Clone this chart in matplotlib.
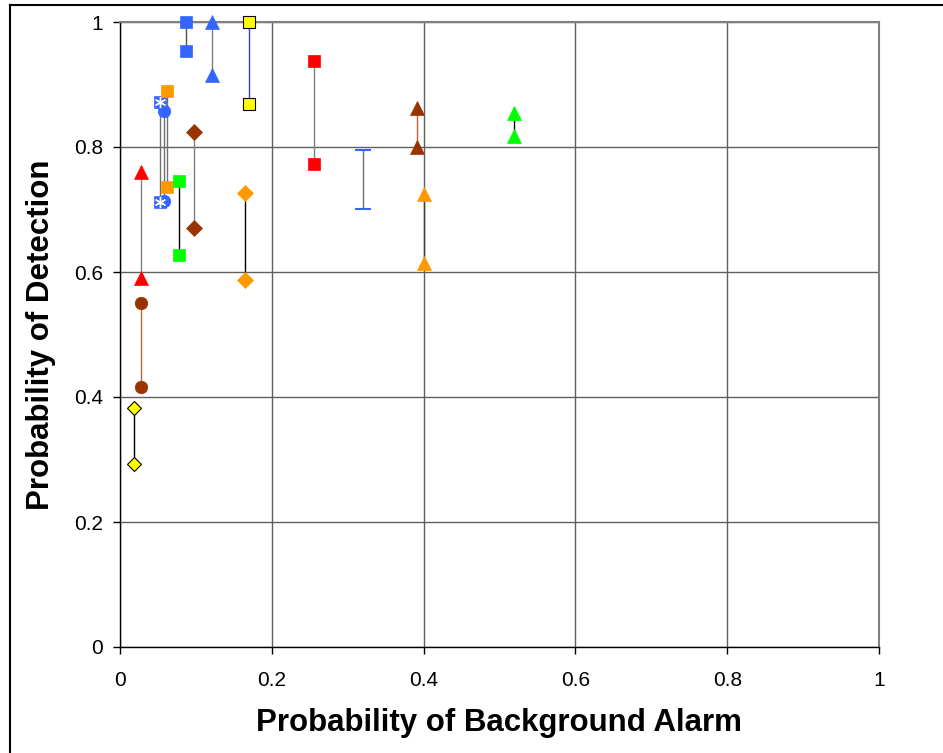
import matplotlib
matplotlib.use('Agg')
import matplotlib.pyplot as plt
from matplotlib.lines import Line2D

plt.rcParams['font.family'] = ['Liberation Sans', 'DejaVu Sans']

# each series is a pair of points joined by a vertical line
pba = [0.018, 0.028, 0.028, 0.053, 0.058, 0.062, 0.078, 0.097, 0.087, 0.121,
       0.170, 0.165, 0.256, 0.320, 0.391, 0.400, 0.519]
pd_hi = [0.382, 0.551, 0.760, 0.872, 0.858, 0.890, 0.746, 0.824, 1.000, 1.000,
         1.000, 0.726, 0.938, 0.795, 0.862, 0.725, 0.855]
pd_lo = [0.293, 0.416, 0.590, 0.712, 0.714, 0.736, 0.627, 0.670, 0.954, 0.915,
         0.869, 0.587, 0.773, 0.701, 0.800, 0.614, 0.818]
markers = ['D', 'o', '^', 's', 'o', 's', 's', 'D', 's', '^',
           's', 'D', 's', None, '^', '^', '^']
colors = ['#FFFF00', '#993300', '#FF0000', '#3366FF', '#3366FF', '#FF9900', '#00FF00',
          '#993300', '#3366FF', '#3366FF', '#FFFF00', '#FF9900', '#FF0000', '#3366FF',
          '#993300', '#FF9900', '#00FF00']
line_colors = ['#000000', '#B8643C', '#808080', '#707070', '#707070', '#707070', '#000000',
               '#808080', '#505050', '#808080', '#3344AA', '#000000', '#808080', '#707070',
               '#B8643C', '#404040', '#000000']

ticks = [0, 0.2, 0.4, 0.6, 0.8, 1.0]
tick_labels = ['0', '0.2', '0.4', '0.6', '0.8', '1']

fig = plt.figure(figsize=(9.43, 7.53), dpi=100)
ax = fig.add_axes([120 / 943, 1 - 647 / 753, 759 / 943, 625 / 753])

for x, hi, lo, m, c, lc in zip(pba, pd_hi, pd_lo, markers, colors, line_colors):
    ax.plot([x, x], [lo, hi], color=lc, lw=1.0, zorder=2, solid_capstyle='butt')
    if m is None:
        # plain range with caps
        ax.plot([x, x], [lo, hi], ls='none', marker='_', ms=12, mew=1.5, color=c, zorder=3)
        continue
    ms = {'s': 9, 'o': 9, '^': 10, 'D': 8}[m]
    ec = c
    if c == '#FFFF00':
        ec = 'black'
        ms = 7 if m == 'D' else ms
    ax.plot([x, x], [lo, hi], ls='none', marker=m, ms=ms, mfc=c, mec=ec,
            mew=0.8 if ec == 'black' else 0.5, zorder=3, clip_on=False)

# white asterisks on the first blue square series
ax.plot([pba[3], pba[3]], [pd_lo[3], pd_hi[3]], ls='none', marker=(6, 2, 0), ms=8,
        mec='white', mew=1.0, zorder=4)

ax.set_xlim(0, 1)
ax.set_ylim(0, 1)
ax.set_xticks(ticks)
ax.set_xticklabels(tick_labels)
ax.set_yticks(ticks)
ax.set_yticklabels(tick_labels)
ax.grid(True, color='#606060', lw=1.0, zorder=1)
ax.set_axisbelow(True)
for s in ['top', 'right']:
    ax.spines[s].set_color('#808080')
    ax.spines[s].set_linewidth(1.5)
for s in ['left', 'bottom']:
    ax.spines[s].set_color('black')
    ax.spines[s].set_linewidth(1.0)
ax.tick_params(axis='both', direction='out', length=5, width=1, labelsize=15, colors='black')
ax.tick_params(axis='y', pad=7)
ax.tick_params(axis='x', pad=12)

ax.set_xlabel('Probability of Background Alarm', fontsize=22.5, fontweight='bold', labelpad=13)
ax.set_ylabel('Probability of Detection', fontsize=22.5, fontweight='bold', labelpad=13)

# chart-area frame (only left and top edges fall inside the picture)
fx = 9.5 / 943
fy = 1 - 4.5 / 753
fig.add_artist(Line2D([fx, fx], [0, fy], color='black', lw=1.5, transform=fig.transFigure))
fig.add_artist(Line2D([fx, 1], [fy, fy], color='black', lw=1.5, transform=fig.transFigure))

fig.savefig('out.png', dpi=100, facecolor='white')
